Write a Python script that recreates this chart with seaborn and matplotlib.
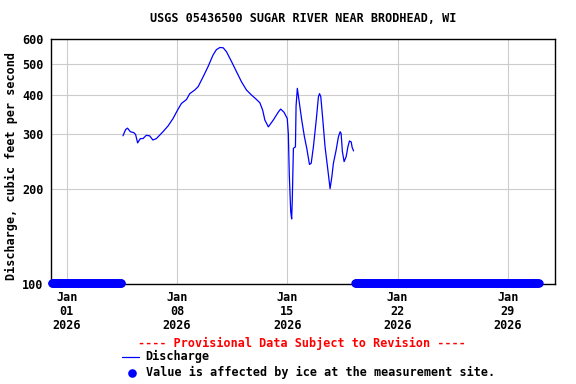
"""Hydrograph of discharge at USGS 05436500 Sugar River near Brodhead, WI"""
import pandas as pd
import matplotlib
matplotlib.use("Agg")
import matplotlib.pyplot as plt
from matplotlib.ticker import FixedLocator, NullLocator, FixedFormatter
from matplotlib.lines import Line2D
import seaborn as sns

# discharge readings: days after 2026-01-01 00:00, cubic feet per second
discharge_days = [3.57, 3.74, 3.86, 4.04, 4.25, 4.37, 4.50, 4.67, 4.84, 5.05,
                  5.26, 5.47, 5.69, 6.11, 6.43, 6.75, 7.03, 7.28, 7.60, 7.81,
                  8.13, 8.34, 8.66, 8.97, 9.29, 9.50, 9.72, 9.93, 10.14, 10.46,
                  10.78, 11.10, 11.41, 11.73, 12.05, 12.26, 12.44, 12.58, 12.80, 13.11,
                  13.43, 13.58, 13.79, 14.00, 14.07, 14.13, 14.22, 14.28, 14.32, 14.39,
                  14.52, 14.56, 14.64, 14.77, 14.92, 15.09, 15.24, 15.41, 15.52, 15.66,
                  15.84, 15.98, 16.05, 16.13, 16.26, 16.40, 16.55, 16.66, 16.72, 16.83,
                  16.93, 17.10, 17.25, 17.36, 17.42, 17.50, 17.61, 17.74, 17.85, 17.95,
                  18.06, 18.12, 18.21]
discharge_cfs = [296, 310, 313, 305, 303, 299, 281, 290, 290, 297,
                 296, 287, 290, 305, 318, 336, 357, 375, 386, 403,
                 414, 424, 456, 491, 535, 556, 565, 564, 548, 510,
                 473, 439, 414, 399, 386, 377, 357, 332, 316, 332,
                 352, 360, 352, 336, 300, 222, 170, 161, 185, 270,
                 273, 368, 419, 376, 332, 294, 270, 240, 242, 273,
                 332, 394, 403, 394, 332, 273, 237, 213, 201, 219,
                 242, 266, 294, 305, 301, 264, 245, 254, 273, 285,
                 283, 272, 265]

# periods where the value is affected by ice (plotted along the bottom)
ice_starts = ["2025-12-31 01:00", "2026-01-19 07:00"]
ice_ends = ["2026-01-04 11:00", "2026-01-30 23:00"]
ice_level = 101

y_ticks = [100, 200, 300, 400, 500, 600]
x_ticks = ["2026-01-01", "2026-01-08", "2026-01-15", "2026-01-22", "2026-01-29"]

W, H = 576, 384
BLUE = "#0000ff"

sns.set_style("white")
plt.rcParams['font.family'] = ['DejaVu Sans Mono']
plt.rcParams['font.weight'] = 'bold'
plt.rcParams['text.color'] = 'black'
plt.rcParams['xtick.color'] = 'black'
plt.rcParams['ytick.color'] = 'black'
FS = 8.5

flow = pd.DataFrame({
    "time": pd.Timestamp("2026-01-01") + pd.to_timedelta(discharge_days, unit="D"),
    "cfs": discharge_cfs,
})
ice_times = pd.DatetimeIndex([])
for s, e in zip(ice_starts, ice_ends):
    ice_times = ice_times.append(pd.date_range(s, e, freq="1h"))
ice = pd.DataFrame({"time": ice_times, "cfs": ice_level})

fig = plt.figure(figsize=(W / 100, H / 100), dpi=100)
ax = fig.add_axes([51 / W, 100 / H, 504 / W, 244.7 / H])

ax.set_yscale("log")
sns.lineplot(data=flow, x="time", y="cfs", ax=ax, color=BLUE, lw=0.9,
             estimator=None, sort=True)
sns.scatterplot(data=ice, x="time", y="cfs", ax=ax, color=BLUE, s=36,
                linewidth=0, clip_on=False, zorder=5)

ax.set_xlim(pd.Timestamp("2025-12-31"), pd.Timestamp("2026-02-01"))
ax.set_ylim(100, 600)
ax.yaxis.set_major_locator(FixedLocator(y_ticks))
ax.yaxis.set_major_formatter(FixedFormatter([str(v) for v in y_ticks]))
ax.yaxis.set_minor_locator(NullLocator())
xt = pd.to_datetime(x_ticks)
ax.set_xticks(xt)
ax.set_xticklabels([t.strftime("%b\n%d\n%Y") for t in xt], linespacing=1.1)
ax.xaxis.set_minor_locator(NullLocator())
ax.tick_params(axis="both", length=0, labelsize=FS, labelcolor="black")
ax.tick_params(axis="y", pad=5.5)
ax.tick_params(axis="x", pad=5)
ax.grid(True, color="#cccccc", lw=0.8)
ax.set_axisbelow(True)
for sp in ax.spines.values():
    sp.set_color("black")
    sp.set_linewidth(1)
ax.set_xlabel("")
ax.set_ylabel("")

fig.text(303 / W, 1 - 19 / H, "USGS 05436500 SUGAR RIVER NEAR BRODHEAD, WI",
         ha="center", va="center", fontsize=FS, color="black")
fig.text(11 / W, 1 - 166 / H, "Discharge, cubic feet per second", rotation=90,
         ha="center", va="center", fontsize=FS, color="black")
fig.text(302 / W, 1 - 343 / H, "---- Provisional Data Subject to Revision ----",
         ha="center", va="center", fontsize=FS, color="red")

# legend drawn by hand
fig.add_artist(Line2D([121.7 / W, 139 / W], [1 - 356.7 / H] * 2, color=BLUE, lw=0.9))
fig.text(145.7 / W, 1 - 356.7 / H, "Discharge", ha="left", va="center",
         fontsize=FS, color="black")
fig.add_artist(Line2D([131.7 / W], [1 - 372.7 / H], marker="o", color=BLUE,
                      markersize=6.2, markeredgewidth=0))
fig.text(145.7 / W, 1 - 372.7 / H, "Value is affected by ice at the measurement site.",
         ha="left", va="center", fontsize=FS, color="black")

fig.savefig("out.png", dpi=100)
plt.close()
